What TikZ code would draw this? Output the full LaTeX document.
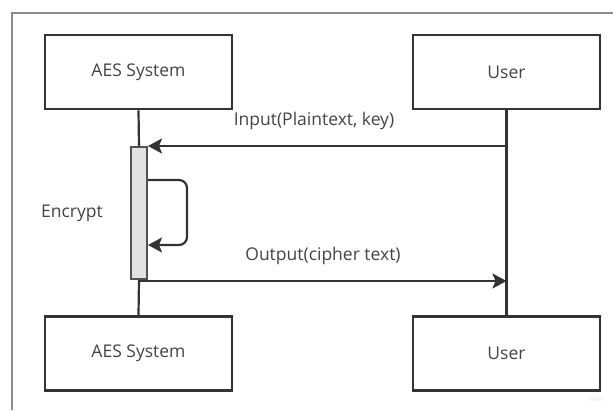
\documentclass[tikz,border=0pt]{standalone}
\usepackage{fontspec}
\setmainfont{Open Sans}
\usetikzlibrary{arrows.meta}
\definecolor{linecol}{HTML}{333333}
\definecolor{textcol}{HTML}{444444}
\definecolor{framecol}{HTML}{8A8A8A}
\definecolor{actfill}{HTML}{E2E2E2}
\begin{document}
\begin{tikzpicture}[x=1pt,y=-1pt,
  actor/.style={draw=linecol,line width=2.6pt,minimum width=187pt,minimum height=74pt,
    text=textcol,font=\fontsize{17.5}{20}\selectfont,inner sep=0pt},
  life/.style={draw=linecol,line width=2.2pt},
  msg/.style={draw=linecol,line width=2.2pt,-{Stealth[length=14pt,width=15pt,inset=3pt]}},
  lbl/.style={text=textcol,font=\fontsize{17.5}{20}\selectfont,inner sep=0pt},
  actbar/.style={draw=linecol!85,fill=actfill,line width=1.6pt,minimum width=16pt,minimum height=132pt,inner sep=0pt}]
\useasboundingbox (0,0) rectangle (613,410);
\fill[white] (0,0) rectangle (613,410);
% frame
\draw[framecol,line width=1.8pt] (12,410) -- (12,13) -- (613,13);
% actors
\node[actor] (aesT) at (138.5,72) {AES System};
\node[actor] (userT) at (506.5,72) {User};
\node[actor] (aesB) at (138.5,353.5) {AES System};
\node[actor] (userB) at (506.5,353.5) {User};
% activation
\node[actbar] (act) at (139,213) {};
% lifelines
\draw[life] (aesT.south) -- (act.north);
\draw[life] (act.south) -- (aesB.north);
\draw[life] (userT.south) -- (userB.north);
% messages
\coordinate (uin) at (506.5,146);
\coordinate (ain) at (148,146);
\draw[msg] (uin) -- (ain);
\node[lbl] (inl) at (314,121) {Input(Plaintext, key)};
\coordinate (ls) at (148,180);
\coordinate (le) at (148,245);
\draw[msg,rounded corners=8pt] (ls) -- (187,180) -- (187,245) -- (le);
\node[lbl] (enc) at (72,213) {Encrypt};
\coordinate (aout) at (139,281);
\coordinate (uout) at (506.5,281);
\draw[msg] (aout) -- (uout);
\node[lbl] (outl) at (323,256) {Output(cipher text)};
\node[text=black!12,font=\fontsize{6}{7}\selectfont] (wm) at (596,399) {miro};
\end{tikzpicture}
\end{document}
